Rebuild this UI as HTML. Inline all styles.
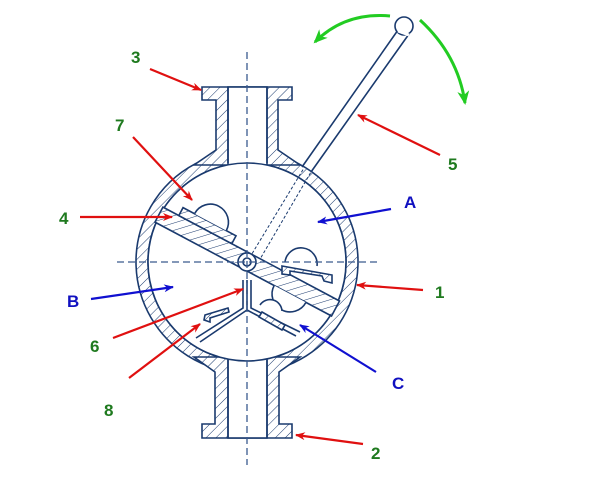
<!DOCTYPE html>
<html><head><meta charset="utf-8"><style>
html,body{margin:0;padding:0;background:#fff;}
svg{display:block;}
.num{font-family:"Liberation Sans",sans-serif;font-weight:bold;font-size:17px;fill:#1f7a1f;}
.let{font-family:"Liberation Sans",sans-serif;font-weight:bold;font-size:17px;fill:#1010c0;}
</style></head><body>
<svg width="600" height="499" viewBox="0 0 600 499" xmlns="http://www.w3.org/2000/svg">
<defs>
<pattern id="h" width="7" height="7" patternUnits="userSpaceOnUse" patternTransform="rotate(45)">
<rect width="7" height="7" fill="#fff"/><line x1="0" y1="0" x2="0" y2="7" stroke="#1a3a6e" stroke-width="1"/></pattern>
<marker id="ar" markerWidth="10" markerHeight="8" refX="9" refY="4" orient="auto" markerUnits="userSpaceOnUse"><path d="M0,0 L10,4 L0,8 L3,4z" fill="#e01010"/></marker>
<marker id="ab" markerWidth="10" markerHeight="8" refX="9" refY="4" orient="auto" markerUnits="userSpaceOnUse"><path d="M0,0 L10,4 L0,8 L3,4z" fill="#1010d0"/></marker>
<marker id="ag" markerWidth="14" markerHeight="12" refX="12" refY="6" orient="auto" markerUnits="userSpaceOnUse"><path d="M0,0 L14,6 L0,12 L4,6z" fill="#22cc22"/></marker>
</defs>
<g stroke="#1a3a6e" stroke-width="1.6" fill="none">
<!-- ring -->
<path d="M247,151 a111,111 0 1,0 0.01,0 M247,163 a99,99 0 1,1 -0.01,0z" fill="url(#h)" fill-rule="evenodd"/>
<!-- top pipe -->
<path d="M202,87 H292 V100 H278 V150 L300,165 H194 L216,150 V100 H202Z" fill="url(#h)"/>
<rect x="228" y="87" width="39" height="78" fill="#fff"/>
<path d="M228,166 Q247,158 267,166" fill="#fff" stroke="none"/>
<!-- bottom pipe -->
<path d="M202,438 H292 V424 H279 V372 L300,357 H194 L215,372 V424 H202Z" fill="url(#h)"/>
<rect x="228" y="358" width="39" height="80" fill="#fff"/>
<!-- re-stroke inner circle -->
<circle cx="247" cy="262" r="99" fill="#fff"/>
<line x1="228" y1="87" x2="228" y2="163"/><line x1="267" y1="87" x2="267" y2="163"/>
<line x1="228" y1="360" x2="228" y2="438"/><line x1="267" y1="360" x2="267" y2="438"/>
<!-- handle -->
<path d="M302,167 L398,30 M311,172 L409,34" />
<circle cx="404" cy="26" r="9" fill="#fff"/>
<path d="M398,31 L409,35" stroke="#fff" stroke-width="3"/>
<path d="M247,262 L304,168 M256,266 L311,172" stroke-dasharray="3,2" stroke-width="1"/>
<!-- vane -->
<g transform="rotate(28 247 262)">
<rect x="147" y="253" width="200" height="17" fill="url(#h)"/>
<rect x="165" y="244" width="60" height="9" fill="url(#h)"/>
<path d="M178,244 a18,18 0 0,1 36,0" fill="#fff"/>
<path d="M282,270 a18,18 0 0,1 36,0" transform="rotate(180 300 270)" fill="#fff"/>
</g>
<circle cx="247" cy="262" r="9" fill="#fff"/>
<circle cx="247" cy="262" r="4"/>
<!-- right arm -->
<path d="M282,266 L332,275 L332,283 L324,281 L322,276 L290,271 L290,275 L282,274Z" fill="url(#h)"/>
<path d="M285,262 a16,16 0 0,1 32,4" fill="#fff"/>
<!-- three-spoke C -->
<path d="M247,280 V310 L200,342 M247,310 L296,336 M243,280 V308 L196,338 M251,280 V308 L300,332" />
<path d="M205,315 L228,308 L229,312 L210,318 L210,322 L204,320Z" fill="url(#h)"/>
<path d="M260,305 a12,12 0 0,1 22,6" fill="#fff"/>
<path d="M262,312 L285,325 L282,330 L259,317Z" fill="url(#h)"/>
</g>
<!-- center lines -->
<g stroke="#3a5a8e" stroke-width="1.3" stroke-dasharray="7,4">
<line x1="247" y1="52" x2="247" y2="465"/>
<line x1="117" y1="262" x2="378" y2="262"/>
</g>
<!-- green arrows -->
<path d="M390,16 Q345,12 315,42" stroke="#22cc22" stroke-width="3" fill="none" marker-end="url(#ag)"/>
<path d="M420,20 Q458,55 465,103" stroke="#22cc22" stroke-width="3" fill="none" marker-end="url(#ag)"/>
<!-- red arrows -->
<g stroke="#e01010" stroke-width="2.2" fill="none">
<line x1="150" y1="69" x2="201" y2="90" marker-end="url(#ar)"/>
<line x1="133" y1="137" x2="192" y2="200" marker-end="url(#ar)"/>
<line x1="80" y1="217" x2="172" y2="217" marker-end="url(#ar)"/>
<line x1="113" y1="338" x2="243" y2="289" marker-end="url(#ar)"/>
<line x1="129" y1="378" x2="200" y2="324" marker-end="url(#ar)"/>
<line x1="440" y1="155" x2="358" y2="115" marker-end="url(#ar)"/>
<line x1="423" y1="290" x2="357" y2="285" marker-end="url(#ar)"/>
<line x1="363" y1="444" x2="296" y2="435" marker-end="url(#ar)"/>
</g>
<g stroke="#1010d0" stroke-width="2.2" fill="none">
<line x1="91" y1="299" x2="173" y2="287" marker-end="url(#ab)"/>
<line x1="391" y1="209" x2="318" y2="222" marker-end="url(#ab)"/>
<line x1="376" y1="372" x2="300" y2="325" marker-end="url(#ab)"/>
</g>
<text class="num" x="131" y="63">3</text>
<text class="num" x="115" y="131">7</text>
<text class="num" x="59" y="224">4</text>
<text class="let" x="67" y="307">B</text>
<text class="num" x="90" y="352">6</text>
<text class="num" x="104" y="416">8</text>
<text class="let" x="404" y="208">A</text>
<text class="num" x="448" y="170">5</text>
<text class="num" x="435" y="298">1</text>
<text class="let" x="392" y="389">C</text>
<text class="num" x="371" y="459">2</text>
</svg>
</body></html>
